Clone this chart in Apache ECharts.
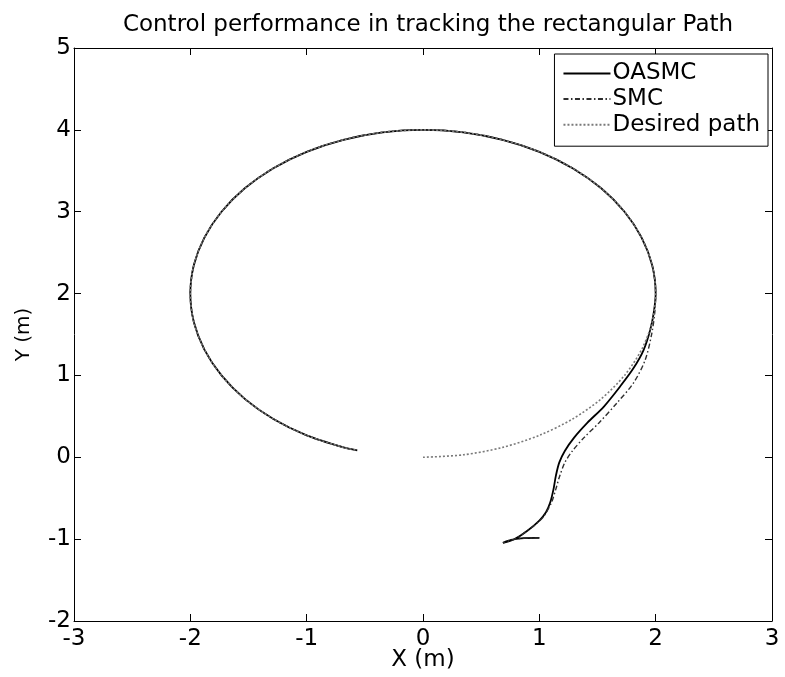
<!DOCTYPE html>
<html>
<head>
<meta charset="utf-8">
<script src="https://cdn.jsdelivr.net/npm/echarts@6/dist/echarts.min.js"></script>
<style>html,body{margin:0;padding:0;background:#fff;}#chart{width:785px;height:677px;}</style>
</head>
<body>
<div id="chart"></div>
<script>
const titleText = 'Control performance in tracking the rectangular Path';
const xTicks = [-3, -2, -1, 0, 1, 2, 3];
const yTicks = [-2, -1, 0, 1, 2, 3, 4, 5];
const seriesNames = ['OASMC', 'SMC', 'Desired path'];

// desired path: first quarter, starting at origin
const desiredStart = [
  [0, 0], [0.347, 0.030], [0.684, 0.121], [1.0, 0.268], [1.286, 0.468],
  [1.532, 0.714], [1.732, 1.0], [1.879, 1.316], [1.970, 1.653]
];
// common arc followed by all three curves
const trackedArc = [
  [2.0, 2.0], [1.970, 2.347], [1.879, 2.684], [1.732, 3.0], [1.532, 3.286], [1.286, 3.532],
  [1.0, 3.732], [0.684, 3.879], [0.347, 3.970], [0, 4.0], [-0.347, 3.970],
  [-0.684, 3.879], [-1.0, 3.732], [-1.286, 3.532], [-1.532, 3.286], [-1.732, 3.0],
  [-1.879, 2.684], [-1.970, 2.347], [-2.0, 2.0], [-1.970, 1.653], [-1.879, 1.316],
  [-1.732, 1.0], [-1.532, 0.714], [-1.286, 0.468], [-1.0, 0.268], [-0.684, 0.121],
  [-0.565, 0.085]
];
const oasmcLead = [
  [1.0, -0.985], [0.843, -0.99], [0.758, -1.01], [0.687, -1.045], [0.787, -1.0],
  [0.90, -0.895], [1.0, -0.774], [1.057, -0.672], [1.094, -0.55], [1.122, -0.389],
  [1.142, -0.227], [1.171, -0.065], [1.219, 0.077], [1.299, 0.24], [1.412, 0.42],
  [1.555, 0.62], [1.697, 0.87], [1.81, 1.09], [1.896, 1.31], [1.953, 1.555],
  [1.985, 1.78]
];
const smcLead = [
  [1.0, -0.985], [0.843, -0.99], [0.758, -1.01], [0.687, -1.045], [0.787, -1.0],
  [0.90, -0.895], [1.0, -0.78], [1.043, -0.713], [1.105, -0.55], [1.142, -0.389],
  [1.171, -0.247], [1.219, -0.065], [1.284, 0.077], [1.384, 0.24], [1.512, 0.42],
  [1.668, 0.665], [1.81, 0.91], [1.91, 1.19], [1.967, 1.515], [1.993, 1.78]
];

const oasmcPath = oasmcLead.concat(trackedArc);
const smcPath = smcLead.concat(trackedArc);
const desiredPath = desiredStart.concat(trackedArc);

const FONT = 'DejaVu Sans, Verdana, sans-serif';
const FS = 23;
const chart = echarts.init(document.getElementById('chart'), null, {renderer: 'canvas'});

const axisCommon = {
  type: 'value',
  interval: 1,
  axisLine: {show: true, onZero: false, lineStyle: {color: '#000', width: 1}},
  axisTick: {show: true, inside: true, length: 7, lineStyle: {color: '#000'}},
  splitLine: {show: false},
  axisLabel: {color: '#000', fontFamily: FONT, fontSize: FS}
};

chart.setOption({
  animation: false,
  backgroundColor: '#fff',
  title: {
    text: titleText,
    left: 423,
    top: 9,
    textAlign: 'center',
    textStyle: {fontFamily: FONT, fontSize: FS, fontWeight: 'normal', color: '#000'}
  },
  grid: {left: 74, right: 13, top: 48, bottom: 56, containLabel: false, outerBoundsMode: 'none'},
  xAxis: [
    Object.assign({}, axisCommon, {
      min: xTicks[0], max: xTicks[xTicks.length - 1], position: 'bottom',
      name: 'X (m)', nameLocation: 'middle', nameGap: 28, nameMoveOverlap: false,
      nameTextStyle: {fontFamily: FONT, fontSize: FS, color: '#000'},
      axisLabel: Object.assign({}, axisCommon.axisLabel, {margin: 7})
    }),
    Object.assign({}, axisCommon, {
      min: xTicks[0], max: xTicks[xTicks.length - 1], position: 'top',
      axisLabel: {show: false}
    })
  ],
  yAxis: [
    Object.assign({}, axisCommon, {
      min: yTicks[0], max: yTicks[yTicks.length - 1], position: 'left',
      name: 'Y (m)', nameLocation: 'middle', nameGap: 40, nameMoveOverlap: false,
      nameTextStyle: {fontFamily: FONT, fontSize: 20, color: '#000'},
      axisLabel: Object.assign({}, axisCommon.axisLabel, {margin: 3})
    }),
    Object.assign({}, axisCommon, {
      min: yTicks[0], max: yTicks[yTicks.length - 1], position: 'right',
      axisLabel: {show: false}
    })
  ],
  legend: {
    orient: 'vertical',
    right: 17,
    top: 54,
    itemWidth: 47,
    itemHeight: 14,
    itemGap: 2.6,
    padding: [8, 8, 10, 8],
    backgroundColor: '#fff',
    borderColor: '#000',
    borderWidth: 1,
    borderRadius: 0,
    itemStyle: {opacity: 0},
    textStyle: {fontFamily: FONT, fontSize: FS, lineHeight: 22, color: '#000', padding: [0, 0, 0, -3]},
    data: seriesNames
  },
  series: [
    {
      name: seriesNames[0], type: 'line', data: oasmcPath, symbol: 'none', smooth: 0.3,
      lineStyle: {color: '#000', width: 1.8, type: 'solid'}, itemStyle: {color: 'rgba(0,0,0,0)'}, z: 2
    },
    {
      name: seriesNames[1], type: 'line', data: smcPath, symbol: 'none', smooth: 0.3,
      lineStyle: {color: '#2e2e2e', width: 1.4, type: [5, 2.5, 1.5, 2.5]}, itemStyle: {color: 'rgba(0,0,0,0)'}, z: 3
    },
    {
      name: seriesNames[2], type: 'line', data: desiredPath, symbol: 'none', smooth: 0.3,
      lineStyle: {color: '#7a7a7a', width: 1.6, type: [2, 2]}, itemStyle: {color: 'rgba(0,0,0,0)'}, z: 4
    }
  ]
});
</script>
</body>
</html>
